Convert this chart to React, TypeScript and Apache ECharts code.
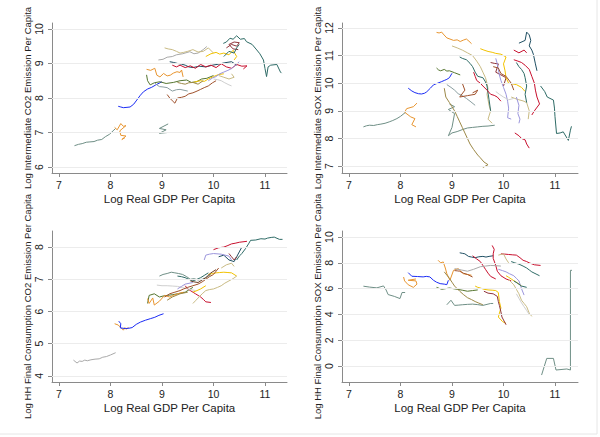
import { useEffect, useRef } from 'react';
import * as echarts from 'echarts';

// colour keys (Stata-like palette)
const PALETTE: Record<string, string> = {
  teal: '#6f8f86',
  orange: '#e8952f',
  blue: '#1b2cf5',
  dkteal: '#2e6b66',
  forest: '#55752f',
  gray: '#a9a9a9',
  khaki: '#c9bb84',
  navy: '#1f4f63',
  crimson: '#c8102e',
  maroon: '#90353b',
  gold: '#f2c200',
  lavender: '#9c96dc',
  sienna: '#a0522d',
  olive: '#9c8847',
  ltgray: '#cfcfcf',
  slate: '#8a9ea0',
  brown: '#6b3f26',
};

// ---- Log Intermediate CO2 Emission Per Capita
const co2IntLines: number[][][] = [
  [[7.3, 6.62], [7.38, 6.66], [7.45, 6.68], [7.53, 6.72], [7.6, 6.73], [7.68, 6.74], [7.75, 6.78], [7.83, 6.8], [7.9, 6.88], [7.98, 6.95], [8.05, 7.05], [8.1, 7.12]],
  [[8.08, 7.15], [8.13, 7.08], [8.2, 7.26], [8.25, 7.18], [8.3, 7.2], [8.18, 7.05], [8.2, 6.92], [8.3, 6.9], [8.22, 6.8], [8.28, 6.85]],
  [[8.15, 7.76], [8.2, 7.74], [8.25, 7.72], [8.32, 7.73], [8.38, 7.74], [8.45, 7.82], [8.51, 7.94], [8.58, 8.08], [8.64, 8.18], [8.72, 8.26], [8.8, 8.31], [8.88, 8.38], [8.96, 8.44], [9.0, 8.47]],
  [[9.12, 7.25], [8.95, 7.12], [9.08, 7.08], [8.95, 6.98], [9.1, 7.0]],
  [[8.7, 8.83], [8.78, 8.8], [8.86, 8.86], [8.9, 8.66], [8.96, 8.61], [9.03, 8.71], [9.1, 8.64], [9.16, 8.66], [9.22, 8.72], [9.29, 8.76], [9.35, 8.74], [9.38, 8.81], [9.41, 8.61]],
  [[10.19, 9.58], [10.25, 9.62], [10.32, 9.73], [10.38, 9.7], [10.45, 9.8], [10.52, 9.7], [10.6, 9.72], [10.64, 9.63], [10.75, 9.55], [10.84, 9.39], [10.9, 9.28], [10.97, 9.1], [11.0, 8.85], [11.03, 8.62], [11.06, 8.9], [11.11, 8.95], [11.23, 8.97], [11.3, 8.75], [11.32, 8.72]],
  [[8.7, 8.67], [8.72, 8.5], [8.77, 8.38], [8.85, 8.44], [8.96, 8.47], [9.08, 8.42], [9.22, 8.45], [9.35, 8.5], [9.48, 8.52], [9.57, 8.45], [9.67, 8.47], [9.77, 8.55], [9.87, 8.57], [10.0, 8.65]],
  [[8.93, 9.1], [9.02, 9.12], [9.1, 9.18], [9.2, 9.2], [9.28, 9.25], [9.4, 9.28], [9.54, 9.34], [9.62, 9.28], [9.7, 9.3], [9.8, 9.4], [9.87, 9.49]],
  [[9.05, 9.45], [9.12, 9.42], [9.2, 9.4], [9.28, 9.35], [9.35, 9.3], [9.42, 9.32], [9.5, 9.35], [9.6, 9.4], [9.7, 9.33], [9.8, 9.35], [9.9, 9.45], [10.0, 9.3]],
  [[9.15, 9.05], [9.22, 9.03], [9.3, 9.0], [9.38, 8.98], [9.45, 8.95], [9.52, 8.9], [9.6, 8.88], [9.72, 8.92], [9.85, 8.9], [9.98, 8.95], [10.1, 8.98], [10.22, 9.02], [10.35, 9.05], [10.45, 8.95]],
  [[9.2, 8.95], [9.28, 8.9], [9.35, 8.95], [9.45, 8.88], [9.55, 8.93], [9.65, 8.86], [9.75, 8.97], [9.85, 8.9], [9.95, 8.95], [10.05, 8.88], [10.15, 8.99], [10.25, 8.9], [10.35, 8.86], [10.45, 8.97], [10.55, 8.92], [10.65, 8.93], [10.58, 8.84]],
  [[10.25, 9.45], [10.3, 9.5], [10.35, 9.55], [10.45, 9.5], [10.5, 9.6], [10.4, 9.62], [10.3, 9.55], [10.38, 9.42], [10.48, 9.4]],
  [[9.85, 9.2], [9.95, 9.28], [10.05, 9.32], [10.12, 9.27], [10.2, 9.3], [10.3, 9.25], [10.38, 9.38], [10.45, 9.2], [10.4, 9.1]],
  [[9.6, 8.45], [9.68, 8.48], [9.75, 8.5], [9.82, 8.48], [9.9, 8.55], [10.0, 8.62], [10.1, 8.68], [10.2, 8.7]],
  [[9.9, 8.5], [9.98, 8.58], [10.05, 8.62], [10.12, 8.7], [10.2, 8.75], [10.28, 8.8], [10.35, 8.85], [10.45, 8.98], [10.5, 9.05]],
  [[9.1, 8.1], [9.15, 8.0], [9.2, 7.92], [9.25, 7.85], [9.3, 8.0], [9.38, 8.02], [9.45, 8.05], [9.52, 8.12], [9.6, 8.15], [9.68, 8.2], [9.75, 8.25], [9.82, 8.3], [9.9, 8.35], [9.98, 8.44], [10.05, 8.5]],
  [[8.85, 8.45], [8.9, 8.38], [8.95, 8.33], [9.02, 8.32], [9.1, 8.3], [9.2, 8.2], [9.28, 8.24], [9.35, 8.25], [9.5, 8.2]],
  [[10.0, 8.55], [10.08, 8.53], [10.15, 8.5], [10.22, 8.44], [10.3, 8.38], [10.35, 8.35]],
  [[10.1, 8.65], [10.2, 8.6], [10.3, 8.55], [10.4, 8.6], [10.35, 8.7]],
  [[9.3, 8.45], [9.38, 8.42], [9.45, 8.4], [9.52, 8.44], [9.6, 8.45], [9.7, 8.4], [9.8, 8.5]],
  [[10.2, 9.2], [10.3, 9.35], [10.4, 9.3], [10.45, 9.45], [10.5, 9.55]],
];
const co2IntColors = ['teal', 'orange', 'blue', 'teal', 'orange', 'dkteal', 'forest', 'gray', 'khaki', 'navy', 'crimson', 'maroon', 'gold', 'gold', 'lavender', 'sienna', 'slate', 'ltgray', 'khaki', 'olive', 'dkteal'];

// ---- Log Intermediate SOX Emission Per Capita
const soxIntLines: number[][][] = [
  [[7.28, 8.42], [7.34, 8.46], [7.4, 8.48], [7.48, 8.47], [7.55, 8.5], [7.62, 8.52], [7.7, 8.55], [7.78, 8.6], [7.85, 8.65], [7.93, 8.72], [8.0, 8.8], [8.1, 8.95]],
  [[8.32, 9.28], [8.25, 9.15], [8.12, 9.08], [8.08, 8.95], [8.2, 8.78], [8.28, 8.72], [8.22, 8.5], [8.3, 8.42]],
  [[8.15, 9.82], [8.22, 9.72], [8.28, 9.66], [8.35, 9.62], [8.41, 9.61], [8.47, 9.64], [8.51, 9.69], [8.58, 9.82], [8.64, 9.94], [8.72, 10.0], [8.8, 10.06], [8.85, 10.1], [8.9, 10.14], [8.95, 10.2], [9.0, 10.36]],
  [[8.95, 9.25], [9.05, 9.15], [8.93, 9.05], [9.05, 8.9], [9.0, 8.4], [8.93, 8.1], [9.0, 8.2], [9.1, 8.25], [9.2, 8.32], [9.3, 8.38], [9.4, 8.4], [9.5, 8.42], [9.6, 8.44], [9.7, 8.45], [9.83, 8.48]],
  [[8.7, 11.84], [8.75, 11.82], [8.8, 11.85], [8.83, 11.78], [8.9, 11.64], [8.96, 11.6], [9.03, 11.55], [9.1, 11.57], [9.16, 11.51], [9.22, 11.56], [9.28, 11.6], [9.33, 11.52], [9.38, 11.43]],
  [[10.3, 11.45], [10.36, 11.5], [10.42, 11.55], [10.45, 11.85], [10.5, 11.75], [10.53, 11.55], [10.5, 11.35], [10.55, 11.2], [10.58, 11.05], [10.62, 10.7], [10.65, 10.45]],
  [[8.7, 10.55], [8.74, 10.48], [8.78, 10.45], [8.85, 10.5], [8.9, 10.44], [8.95, 10.45], [9.05, 10.38], [9.16, 10.3]],
  [[8.9, 9.95], [8.98, 9.85], [9.05, 9.75], [9.12, 9.62], [9.2, 9.55], [9.28, 9.45], [9.35, 9.35], [9.45, 9.2]],
  [[9.0, 11.35], [9.1, 11.28], [9.2, 11.2], [9.3, 11.1], [9.4, 11.0], [9.48, 10.8], [9.55, 10.6], [9.6, 10.4], [9.65, 10.2], [9.68, 10.0], [9.7, 9.8], [9.68, 9.6], [9.7, 9.4], [9.72, 9.2], [9.75, 9.0], [9.7, 8.7], [9.78, 8.55]],
  [[9.15, 10.95], [9.2, 10.9], [9.28, 10.85], [9.35, 10.72], [9.4, 10.6], [9.45, 10.4], [9.5, 10.25], [9.6, 10.2], [9.65, 10.05], [9.68, 9.9], [9.72, 9.4], [9.75, 9.0]],
  [[9.42, 10.4], [9.45, 10.25], [9.48, 10.1], [9.55, 10.0], [9.6, 9.9], [9.68, 9.75], [9.75, 9.6], [9.82, 9.56], [9.88, 9.5], [9.95, 9.35]],
  [[9.75, 10.75], [9.82, 10.72], [9.9, 10.7], [9.85, 10.4], [9.95, 10.3], [10.05, 10.2], [10.0, 9.9]],
  [[9.55, 11.25], [9.62, 11.2], [9.7, 11.15], [9.78, 11.12], [9.85, 11.08], [9.95, 11.05], [10.05, 10.95], [10.0, 10.7], [10.03, 10.45], [10.05, 10.2], [10.1, 10.0], [10.25, 9.95], [10.35, 9.85], [10.42, 9.7]],
  [[10.2, 10.85], [10.28, 10.8], [10.35, 10.75], [10.42, 10.65], [10.5, 10.5], [10.55, 10.25], [10.6, 10.0], [10.62, 9.75], [10.65, 9.5], [10.7, 9.25], [10.6, 9.0], [10.55, 8.85]],
  [[9.85, 10.9], [9.88, 10.7], [9.9, 10.5], [9.92, 10.3], [9.95, 10.1], [10.0, 9.85], [10.05, 9.6], [10.08, 9.35], [10.1, 9.1], [10.08, 8.75], [10.15, 8.7]],
  [[9.2, 10.0], [9.25, 9.75], [9.15, 9.5], [9.3, 9.55], [9.45, 9.6], [9.5, 9.75], [9.4, 9.65]],
  [[8.85, 9.82], [8.88, 9.5], [8.95, 9.3], [9.0, 9.15], [9.05, 9.0], [9.1, 8.8], [9.15, 8.6], [9.2, 8.4], [9.25, 8.2], [9.3, 8.0], [9.35, 7.8], [9.42, 7.6], [9.5, 7.4], [9.55, 7.3], [9.62, 7.15], [9.7, 7.05], [9.6, 6.95]],
  [[10.15, 9.5], [10.22, 9.45], [10.3, 9.4], [10.38, 9.36], [10.45, 9.3], [10.5, 9.0], [10.48, 8.7]],
  [[9.85, 9.7], [9.92, 9.6], [10.0, 9.5], [10.1, 9.4], [10.2, 9.45]],
  [[10.25, 10.75], [10.3, 10.6], [10.35, 10.5], [10.4, 10.35], [10.42, 10.2], [10.45, 9.9], [10.42, 9.6], [10.45, 9.3]],
  [[10.25, 9.5], [10.3, 9.2], [10.28, 8.9], [10.32, 8.7], [10.3, 8.55]],
  [[10.22, 8.2], [10.3, 8.1], [10.35, 8.0], [10.42, 7.95], [10.45, 7.8], [10.5, 7.65]],
  [[10.2, 11.2], [10.3, 11.1], [10.4, 11.2], [10.45, 11.1]],
  [[10.72, 9.9], [10.8, 9.7], [10.85, 9.5], [10.97, 9.39], [10.99, 9.1], [11.0, 8.8], [11.03, 8.18], [11.1, 8.2], [11.16, 8.24], [11.26, 7.93], [11.3, 8.3], [11.32, 8.44]],
  [[9.8, 10.6], [9.9, 10.55], [9.95, 10.35], [10.05, 10.25], [10.15, 10.0], [10.2, 9.75]],
];
const soxIntColors = ['teal', 'orange', 'blue', 'teal', 'orange', 'navy', 'forest', 'slate', 'khaki', 'dkteal', 'crimson', 'maroon', 'gold', 'crimson', 'lavender', 'sienna', 'olive', 'khaki', 'ltgray', 'dkteal', 'lavender', 'crimson', 'crimson', 'dkteal', 'sienna'];

// ---- Log HH Final Consumption CO2 Emission Per Capita
const co2HhLines: number[][][] = [
  [[7.28, 4.49], [7.35, 4.4], [7.4, 4.46], [7.45, 4.45], [7.5, 4.49], [7.55, 4.47], [7.62, 4.5], [7.7, 4.52], [7.78, 4.53], [7.85, 4.58], [7.92, 4.6], [8.0, 4.65], [8.1, 4.72]],
  [[8.08, 5.62], [8.15, 5.58], [8.2, 5.5], [8.25, 5.42], [8.28, 5.5], [8.3, 5.45], [8.35, 5.5]],
  [[8.16, 5.7], [8.2, 5.62], [8.19, 5.49], [8.29, 5.47], [8.36, 5.48], [8.42, 5.5], [8.5, 5.6], [8.58, 5.67], [8.68, 5.73], [8.78, 5.78], [8.86, 5.82], [8.94, 5.88], [9.03, 5.93]],
  [[10.45, 7.6], [10.5, 7.72], [10.55, 7.8], [10.62, 7.95], [10.68, 8.1], [10.72, 8.21], [10.82, 8.22], [10.92, 8.26], [11.0, 8.25], [11.05, 8.28], [11.12, 8.3], [11.18, 8.31], [11.28, 8.24], [11.34, 8.24]],
  [[10.0, 7.92], [10.05, 7.95], [10.1, 7.98], [10.2, 8.0], [10.28, 8.05], [10.35, 8.1], [10.42, 8.12], [10.5, 8.15], [10.65, 8.18]],
  [[9.45, 6.8], [9.5, 6.7], [9.55, 6.65], [9.65, 6.55], [9.75, 6.45], [9.8, 6.38], [9.85, 6.3], [9.95, 6.28]],
  [[8.72, 6.25], [8.75, 6.5], [8.85, 6.55], [8.95, 6.45], [9.02, 6.48], [9.1, 6.5], [9.2, 6.52], [9.3, 6.55], [9.45, 6.6], [9.6, 6.75]],
  [[10.1, 7.7], [10.2, 7.75], [10.3, 7.6], [10.4, 7.55], [10.45, 7.7], [10.5, 7.85], [10.55, 8.0]],
  [[8.95, 7.1], [9.02, 7.15], [9.1, 7.18], [9.18, 7.22], [9.25, 7.2], [9.32, 7.18], [9.4, 7.15], [9.48, 7.08], [9.55, 7.0], [9.62, 7.02], [9.7, 6.98], [9.78, 7.0], [9.85, 7.05], [9.95, 7.15]],
  [[9.3, 7.1], [9.38, 7.08], [9.45, 7.05], [9.52, 7.0], [9.6, 6.95], [9.68, 7.0], [9.75, 7.05], [9.82, 7.12], [9.9, 7.2]],
  [[8.9, 6.82], [9.0, 6.8], [9.1, 6.8], [9.2, 6.79], [9.3, 6.78], [9.4, 6.74], [9.5, 6.7], [9.65, 6.65]],
  [[9.82, 7.6], [9.85, 7.75], [9.92, 7.78], [10.0, 7.8], [10.15, 7.78], [10.3, 7.72], [10.35, 7.6]],
  [[9.3, 6.7], [9.38, 6.78], [9.45, 6.85], [9.6, 6.9]],
  [[9.9, 7.15], [9.98, 7.18], [10.05, 7.2], [10.12, 7.21], [10.2, 7.22], [10.28, 7.21], [10.35, 7.2], [10.45, 7.1]],
  [[9.6, 6.6], [9.68, 6.65], [9.75, 6.7], [9.85, 6.8]],
  [[8.72, 6.4], [8.75, 6.25], [8.82, 6.42], [8.85, 6.2], [8.95, 6.32], [9.05, 6.5], [9.15, 6.45], [9.22, 6.5], [9.3, 6.55], [9.42, 6.6]],
  [[9.05, 6.45], [9.1, 6.5], [9.15, 6.55], [9.25, 6.6], [9.35, 6.65], [9.42, 6.7], [9.5, 6.75], [9.6, 6.8], [9.7, 6.85], [9.78, 6.92], [9.85, 7.0], [9.92, 7.08], [10.0, 7.15], [10.1, 7.35]],
  [[9.55, 6.95], [9.62, 6.92], [9.7, 6.9], [9.78, 6.98], [9.85, 7.05], [9.95, 7.2], [10.05, 7.3]],
  [[9.6, 6.25], [9.66, 6.35], [9.72, 6.45], [9.78, 6.55], [9.85, 6.65], [9.92, 6.68], [10.0, 6.7], [10.08, 6.75], [10.15, 6.8], [10.22, 6.88], [10.3, 6.95], [10.38, 7.02], [10.45, 7.1]],
  [[9.1, 6.35], [9.2, 6.45], [9.35, 6.55], [9.5, 6.6]],
  [[10.15, 7.35], [10.25, 7.45], [10.35, 7.5], [10.4, 7.4]],
  [[10.3, 7.8], [10.35, 7.7], [10.4, 7.6], [10.45, 7.7]],
];
const co2HhColors = ['gray', 'orange', 'blue', 'dkteal', 'crimson', 'crimson', 'forest', 'navy', 'teal', 'dkteal', 'ltgray', 'lavender', 'lavender', 'gold', 'gold', 'orange', 'sienna', 'brown', 'khaki', 'olive', 'khaki', 'maroon'];

// ---- Log HH Final Consumption SOX Emission Per Capita
const soxHhLines: number[][][] = [
  [[7.28, 6.19], [7.4, 6.12], [7.54, 6.06], [7.67, 6.21], [7.72, 5.9], [7.76, 5.54], [7.88, 5.4], [7.99, 5.23], [8.03, 5.7], [8.09, 5.7]],
  [[8.06, 6.9], [8.08, 6.6], [8.15, 6.3], [8.25, 6.1], [8.32, 6.35], [8.3, 6.6], [8.15, 6.65], [8.3, 6.75]],
  [[8.15, 7.24], [8.22, 6.96], [8.33, 6.94], [8.44, 6.91], [8.5, 6.95], [8.57, 6.91], [8.64, 6.65], [8.7, 6.5], [8.77, 6.39], [8.85, 6.35], [8.9, 6.31], [8.93, 6.65]],
  [[10.74, -0.7], [10.84, 0.59], [10.97, 0.59], [11.02, -0.31], [11.23, -0.23], [11.3, -0.31], [11.3, 7.42], [11.33, 7.42]],
  [[8.73, 8.2], [8.78, 8.0], [8.83, 8.07], [8.87, 7.6], [8.9, 7.16], [8.96, 6.65], [9.03, 7.42], [9.12, 7.55], [9.22, 7.16], [9.3, 7.1], [9.38, 7.04]],
  [[9.45, 6.2], [9.5, 6.1], [9.55, 6.05], [9.62, 5.95], [9.7, 5.9], [9.78, 5.88], [9.85, 5.85], [9.9, 5.7], [9.92, 5.0], [9.95, 4.5], [9.9, 3.8], [9.98, 3.45], [10.05, 3.3]],
  [[9.62, 5.8], [9.7, 5.65], [9.8, 5.6], [9.88, 5.4], [9.9, 5.0], [9.92, 4.7], [9.95, 4.2], [9.97, 3.8], [10.05, 3.2]],
  [[9.15, 8.78], [9.2, 8.74], [9.25, 8.7], [9.32, 8.5], [9.38, 8.45], [9.45, 8.4], [9.52, 8.47], [9.6, 8.5], [9.66, 8.45], [9.72, 8.5], [9.8, 8.55]],
  [[10.15, 8.1], [10.22, 8.0], [10.3, 7.9], [10.38, 7.75], [10.45, 7.6], [10.5, 7.45], [10.55, 7.3], [10.65, 7.1], [10.7, 7.0]],
  [[9.95, 8.7], [10.02, 8.68], [10.1, 8.65], [10.18, 8.62], [10.25, 8.6], [10.32, 8.4], [10.38, 8.2], [10.45, 8.1], [10.5, 8.0], [10.6, 7.85], [10.72, 7.8]],
  [[9.78, 9.35], [9.82, 9.05], [9.8, 8.7], [9.8, 8.35], [9.85, 7.8], [9.88, 7.35], [9.95, 7.0], [10.05, 6.75], [10.15, 6.6]],
  [[9.4, 8.55], [9.48, 8.3], [9.55, 8.1], [9.6, 7.8], [9.65, 7.5], [9.7, 7.2], [9.75, 6.95], [9.85, 6.75]],
  [[9.05, 7.4], [9.1, 7.38], [9.15, 7.35], [9.22, 7.2], [9.3, 7.1], [9.4, 6.9]],
  [[8.9, 4.75], [8.98, 5.1], [9.05, 4.7], [9.12, 4.72], [9.2, 4.75], [9.3, 4.78], [9.4, 4.8], [9.5, 4.76], [9.6, 4.7], [9.68, 4.78], [9.75, 4.85], [9.8, 4.85]],
  [[9.05, 7.55], [9.18, 7.45], [9.3, 7.35], [9.42, 7.5], [9.55, 7.7], [9.65, 7.75], [9.75, 7.8], [9.85, 7.78], [9.95, 7.75]],
  [[8.7, 6.1], [8.8, 5.95], [8.88, 6.0], [8.95, 6.05], [9.02, 6.0], [9.1, 5.95], [9.2, 5.88], [9.3, 5.8], [9.4, 5.85], [9.5, 5.9]],
  [[8.85, 7.3], [8.9, 7.05], [8.95, 6.8], [9.0, 6.5], [9.05, 6.2], [9.1, 6.0], [9.15, 5.8], [9.22, 5.55], [9.3, 5.3], [9.38, 5.15], [9.45, 5.0], [9.52, 4.88], [9.6, 4.75]],
  [[10.1, 6.7], [10.15, 6.5], [10.2, 6.3], [10.25, 5.95], [10.3, 5.6], [10.35, 5.1], [10.4, 4.85], [10.45, 4.6], [10.5, 4.1], [10.55, 3.85]],
  [[10.25, 5.6], [10.3, 5.25], [10.35, 4.9], [10.4, 4.6], [10.45, 4.3], [10.5, 4.0]],
  [[9.9, 7.5], [9.98, 7.4], [10.05, 7.3], [10.12, 7.15], [10.2, 7.0], [10.25, 6.8], [10.3, 6.6], [10.35, 6.0], [10.4, 5.5]],
  [[10.05, 7.0], [10.1, 6.88], [10.15, 6.75], [10.2, 6.62], [10.25, 6.5], [10.35, 6.2]],
  [[10.2, 6.6], [10.28, 6.4], [10.35, 6.2], [10.45, 6.1]],
  [[9.9, 8.6], [10.0, 8.7], [10.05, 8.3], [10.1, 8.0]],
];
const soxHhColors = ['teal', 'orange', 'blue', 'teal', 'orange', 'gold', 'maroon', 'navy', 'dkteal', 'crimson', 'crimson', 'crimson', 'sienna', 'teal', 'gray', 'forest', 'olive', 'khaki', 'ltgray', 'lavender', 'gold', 'dkteal', 'khaki'];

const xTicks = [7, 8, 9, 10, 11];
const yTicks = [
  [6, 7, 8, 9, 10],
  [7, 8, 9, 10, 11, 12],
  [4, 5, 6, 7, 8],
  [0, 2, 4, 6, 8, 10],
];
const yTitles = [
  'Log Intermediate CO2 Emission Per Capita',
  'Log Intermediate SOX Emission Per Capita',
  'Log HH Final Consumption CO2 Emission Per Capita',
  'Log HH Final Consumption SOX Emission Per Capita',
];
const xTitle = 'Log Real GDP Per Capita';

const FONT = '"Liberation Sans", Arial, Helvetica, sans-serif';
const AXIS_COLOR = '#8a8a8a';

const GRIDS = [
  { left: 52, top: 23, width: 235, height: 150 },
  { left: 342, top: 23, width: 236, height: 150 },
  { left: 52, top: 231, width: 235, height: 151 },
  { left: 342, top: 231, width: 236, height: 151 },
];
const X_RANGE = [
  [6.864, 11.427],
  [6.864, 11.447],
  [6.864, 11.427],
  [6.864, 11.447],
];
const Y_RANGE = [
  [5.83, 10.17],
  [6.75, 12.18],
  [3.81, 8.5],
  [-1.24, 10.47],
];

export default function App() {
  const chartRef = useRef<HTMLDivElement>(null);

  useEffect(() => {
    if (!chartRef.current) return;
    const chart = echarts.init(chartRef.current, null, { renderer: 'svg' });

    const panels = [
      { lines: co2IntLines, colors: co2IntColors },
      { lines: soxIntLines, colors: soxIntColors },
      { lines: co2HhLines, colors: co2HhColors },
      { lines: soxHhLines, colors: soxHhColors },
    ];

    const series: any[] = [];
    panels.forEach((p, i) => {
      // horizontal grid lines at the y ticks
      series.push({
        type: 'line',
        xAxisIndex: i,
        yAxisIndex: i,
        data: [],
        silent: true,
        z: 0,
        markLine: {
          silent: true,
          symbol: ['none', 'none'],
          label: { show: false },
          lineStyle: { color: '#ececec', type: 'solid', width: 1 },
          data: yTicks[i].map((v) => ({ yAxis: v })),
        },
      });
      p.lines.forEach((pts, j) => {
        series.push({
          type: 'line',
          xAxisIndex: i,
          yAxisIndex: i,
          data: pts,
          showSymbol: false,
          symbol: 'none',
          z: 2,
          lineStyle: { color: PALETTE[p.colors[j]] || '#888', width: 1 },
        });
      });
    });

    const option: echarts.EChartsOption = {
      animation: false,
      backgroundColor: '#ffffff',
      textStyle: { fontFamily: FONT },
      grid: GRIDS.map((g) => ({ ...g, containLabel: false })),
      xAxis: GRIDS.map((_, i) => ({
        type: 'value',
        gridIndex: i,
        min: X_RANGE[i][0],
        max: X_RANGE[i][1],
        name: xTitle,
        nameLocation: 'middle',
        nameGap: 20,
        nameMoveOverlap: false,
        nameTextStyle: { fontSize: 11.5, color: '#222', fontFamily: FONT },
        axisLine: { show: true, onZero: false, lineStyle: { color: AXIS_COLOR, width: 1 } },
        axisTick: { show: true, length: 4, customValues: xTicks, lineStyle: { color: AXIS_COLOR } },
        axisLabel: { customValues: xTicks, margin: 6, fontSize: 10.5, color: '#222', fontFamily: FONT },
        splitLine: { show: false },
      })),
      yAxis: GRIDS.map((_, i) => ({
        type: 'value',
        gridIndex: i,
        min: Y_RANGE[i][0],
        max: Y_RANGE[i][1],
        name: yTitles[i],
        nameLocation: 'middle',
        nameGap: 20,
        nameMoveOverlap: false,
        nameTextStyle: { fontSize: 9.5, color: '#222', fontFamily: FONT },
        axisLine: { show: true, onZero: false, lineStyle: { color: AXIS_COLOR, width: 1 } },
        axisTick: { show: true, length: 4, customValues: yTicks[i], lineStyle: { color: AXIS_COLOR } },
        axisLabel: { customValues: yTicks[i], rotate: 90, margin: 8, fontSize: 10.5, color: '#222', fontFamily: FONT },
        splitLine: { show: false },
      })),
      graphic: [
        { type: 'line', shape: { x1: 597, y1: 0, x2: 597, y2: 434 }, style: { stroke: '#e6e6e6', lineWidth: 1 }, silent: true },
        { type: 'line', shape: { x1: 0, y1: 434, x2: 597, y2: 434 }, style: { stroke: '#e6e6e6', lineWidth: 1 }, silent: true },
      ],
      series,
    } as any;

    chart.setOption(option);
    return () => {
      chart.dispose();
    };
  }, []);

  return (
    <div
      ref={chartRef}
      style={{ position: 'fixed', left: 0, top: 0, width: '600px', height: '437px', background: '#fff' }}
    />
  );
}
